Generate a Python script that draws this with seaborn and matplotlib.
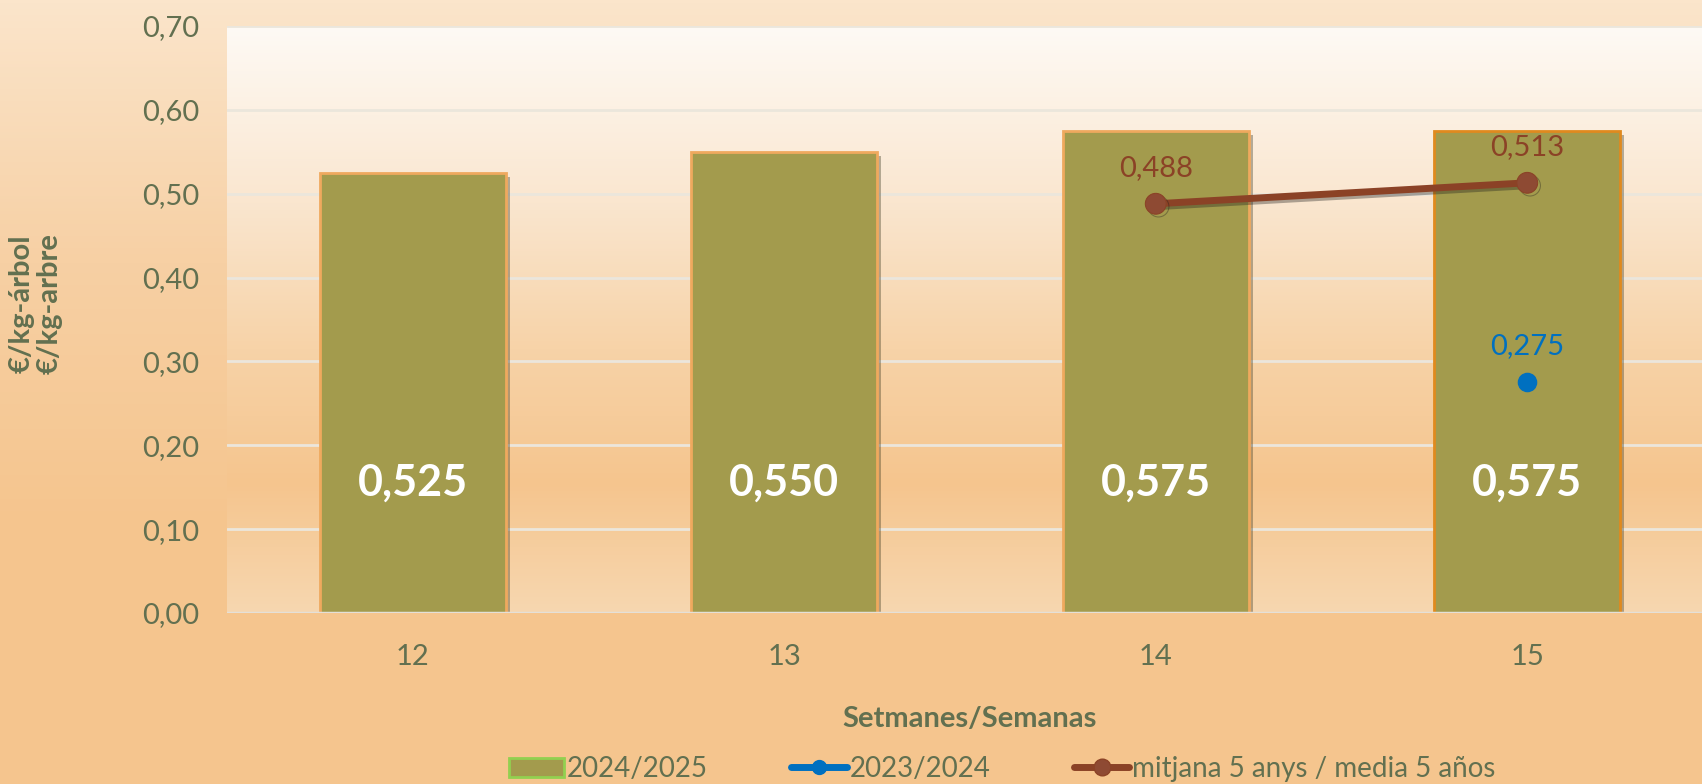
import numpy as np
import matplotlib
matplotlib.use("Agg")
import matplotlib.pyplot as plt
import matplotlib.patheffects as pe
from matplotlib.colors import LinearSegmentedColormap
from matplotlib.patches import Patch
from matplotlib.lines import Line2D
import seaborn as sns
import pandas as pd

# data
weeks = ["12", "13", "14", "15"]
price_2425 = [0.525, 0.550, 0.575, 0.575]
weeks_2324 = ["15"]
price_2324 = [0.275]
weeks_avg = ["14", "15"]
price_avg = [0.488, 0.513]

yticks = [0.0, 0.1, 0.2, 0.3, 0.4, 0.5, 0.6, 0.7]

txt_col = "#627050"
bar_col = "#a39b4d"
blue = "#0070c0"
brown = "#8b4226"

sns.set_theme(style="white")
plt.rcParams["font.family"] = ["Lato", "DejaVu Sans"]

fig = plt.figure(figsize=(17.02, 7.84), dpi=100)

# figure background gradient
bg = fig.add_axes([0, 0, 1, 1], zorder=-10)
bg_cmap = LinearSegmentedColormap.from_list("bg", ["#fbe5cb", "#f7d0a4", "#f5c58e", "#f5c58e"])
bg.imshow(np.linspace(0, 1, 256).reshape(-1, 1), cmap=bg_cmap, aspect="auto", extent=[0, 1, 0, 1], origin="upper")
bg.axis("off")

# plot area runs a little past the right edge of the picture
ax = fig.add_axes([227 / 1702, 1 - 613 / 784, (1713 - 227) / 1702, (613 - 26) / 784])
ax.set_facecolor("none")

# plot-area gradient
pa_cmap = LinearSegmentedColormap.from_list(
    "pa", [(0, "#f7d7b0"), (0.22, "#f5c58e"), (0.45, "#f7d3a8"), (0.7, "#fae6cf"), (1.0, "#fefaf5")])
ax.imshow(np.linspace(0, 1, 256).reshape(-1, 1), cmap=pa_cmap, aspect="auto",
          extent=[-0.5, 3.5, 0, 0.7], origin="lower", zorder=0)

for y in yticks[1:]:
    ax.axhline(y, color="#ebe6dc", lw=2, zorder=1)

df = pd.DataFrame({"week": weeks, "price": price_2425})
sns.barplot(data=df, x="week", y="price", color=bar_col, width=0.5, saturation=1,
            ax=ax, zorder=2)
edges = ["#efa95e", "#efa95e", "#efa95e", "#e08a1e"]
for bar, ec in zip(ax.patches, edges):
    bar.set_edgecolor(ec)
    bar.set_linewidth(2)
    bar.set_path_effects([pe.SimplePatchShadow(offset=(3, -3), alpha=0.35), pe.Normal()])

for i, v in enumerate(price_2425):
    ax.text(i, 0.155, f"{v:.3f}".replace(".", ","), ha="center", va="center",
            color="white", fontsize=31, fontweight="bold", zorder=5)

shadow = [pe.SimpleLineShadow(offset=(2, -2), alpha=0.35), pe.Normal()]
xa = [weeks.index(w) for w in weeks_avg]
sns.lineplot(x=xa, y=price_avg, color=brown, lw=5, marker="o", markersize=15,
             markeredgecolor=brown, markerfacecolor="#8e4a33", ax=ax, zorder=4,
             path_effects=shadow)
for x, v in zip(xa, price_avg):
    ax.annotate(f"{v:.3f}".replace(".", ","), (x, v), xytext=(0, 26), textcoords="offset points",
                ha="center", va="center", color=brown, fontsize=21, zorder=6)

xb = [weeks.index(w) for w in weeks_2324]
sns.scatterplot(x=xb, y=price_2324, color=blue, s=170, edgecolor=blue, ax=ax, zorder=4)
for x, v in zip(xb, price_2324):
    ax.annotate(f"{v:.3f}".replace(".", ","), (x, v), xytext=(0, 26), textcoords="offset points",
                ha="center", va="center", color=blue, fontsize=21, zorder=6)

ax.axhline(0, color="#e4e0d8", lw=2.5, zorder=3)

ax.set_xlim(-0.5, 3.5)
ax.set_ylim(0, 0.7)
ax.set_yticks(yticks)
ax.set_yticklabels([f"{t:.2f}".replace(".", ",") for t in yticks])
ax.tick_params(axis="y", colors=txt_col, labelsize=21, pad=20, length=0)
ax.tick_params(axis="x", colors=txt_col, labelsize=21, pad=22, length=0)
for s in ax.spines.values():
    s.set_visible(False)
ax.grid(False)
ax.set_xlabel("Setmanes/Semanas", color=txt_col, fontsize=21, fontweight="bold", labelpad=26)
ax.set_ylabel("")

fig.text(22 / 1702, 1 - 304 / 784, "€/kg-árbol", rotation=90, ha="center", va="center",
         color=txt_col, fontsize=21, fontweight="bold")
fig.text(50 / 1702, 1 - 304 / 784, "€/kg-arbre", rotation=90, ha="center", va="center",
         color=txt_col, fontsize=21, fontweight="bold")

handles = [
    Patch(facecolor=bar_col, edgecolor="#92d050", lw=2),
    Line2D([0], [0], color=blue, lw=5, marker="o", markersize=10, markeredgecolor=blue),
    Line2D([0], [0], color=brown, lw=5, marker="o", markersize=12, markeredgecolor=brown,
           markerfacecolor="#8e4a33"),
]
labels = ["2024/2025", "2023/2024", "mitjana 5 anys / media 5 años"]
fig.legend(handles, labels, loc="center", bbox_to_anchor=(1002 / 1702, 1 - 769 / 784), ncol=3,
           frameon=False, fontsize=20, labelcolor=txt_col, handlelength=2.0, handletextpad=0.1,
           columnspacing=3.0)

fig.savefig("out.png", dpi=100)
